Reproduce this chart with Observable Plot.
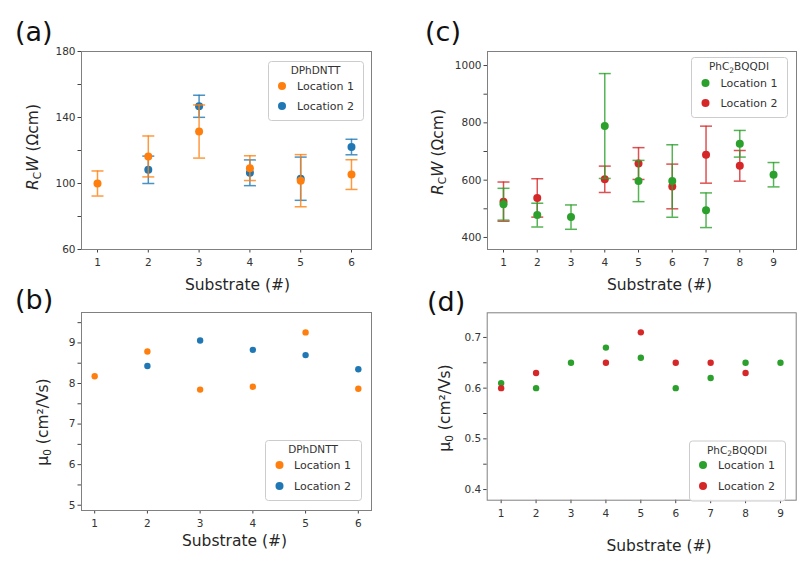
<!DOCTYPE html>
<html>
<head>
<meta charset="utf-8">
<script src="https://cdn.jsdelivr.net/npm/d3@7"></script>
<script src="https://cdn.jsdelivr.net/npm/@observablehq/plot@0.6"></script>
<style>
  body { margin: 0; background: #fff; }
  #wrap { position: relative; width: 811px; height: 564px; overflow: hidden; font-family: "DejaVu Sans", sans-serif; }
  .panel { position: absolute; }
  .panel svg { overflow: visible; }
  #overlay { position: absolute; left: 0; top: 0; pointer-events: none; font-weight: normal; }
</style>
</head>
<body>
<div id="wrap"></div>
<script>
// ---------- data ----------
const colorL1a = "#ff7f0e", colorL2a = "#1f77b4";   // DPhDNTT
const colorL1c = "#2ca02c", colorL2c = "#d62728";   // PhC2BQQDI

// (a) contact resistance, DPhDNTT
const subsA1 = [1, 2, 3, 4, 5, 6];
const rcwA1  = [100, 116.4, 131.5, 109.3, 101.7, 105.4];
const errA1  = [7.6, 12.4, 16.1, 7.5, 15.8, 9.0];
const subsA2 = [2, 3, 4, 5, 6];
const rcwA2  = [108.3, 146.8, 106.5, 102.9, 122.1];
const errA2  = [8.3, 6.7, 7.8, 13.1, 4.7];

// (b) mobility, DPhDNTT
const subsB1 = [1, 2, 3, 4, 5, 6];
const mobB1  = [8.18, 8.79, 7.85, 7.92, 9.26, 7.87];
const subsB2 = [2, 3, 4, 5, 6];
const mobB2  = [8.43, 9.06, 8.83, 8.70, 8.35];

// (c) contact resistance, PhC2BQQDI
const subsC1 = [1, 2, 3, 4, 5, 6, 7, 8, 9];
const rcwC1  = [516, 478, 471, 789, 597, 597, 495, 727, 619];
const errC1  = [55.5, 41.5, 42.5, 183, 72, 126.5, 60.5, 46.5, 42.5];
const subsC2 = [1, 2, 4, 5, 6, 7, 8];
const rcwC2  = [525, 538, 603, 658, 578, 689, 650];
const errC2  = [68.5, 67, 46, 55.5, 78, 99.5, 53.5];

// (d) mobility, PhC2BQQDI
const subsD1 = [1, 2, 3, 4, 5, 6, 7, 8, 9];
const mobD1  = [0.61, 0.60, 0.65, 0.68, 0.66, 0.60, 0.62, 0.65, 0.65];
const subsD2 = [1, 2, 4, 5, 6, 7, 8];
const mobD2  = [0.60, 0.63, 0.65, 0.71, 0.65, 0.65, 0.63];

// ticks
const xTicks6 = [1, 2, 3, 4, 5, 6];
const xTicks9 = [1, 2, 3, 4, 5, 6, 7, 8, 9];
const yTicksA = [60, 100, 140, 180], yMinorA = [80, 120, 160];
const yTicksB = [5, 6, 7, 8, 9],     yMinorB = [5.5, 6.5, 7.5, 8.5, 9.5];
const yTicksC = [400, 600, 800, 1000], yMinorC = [500, 700, 900];
const yTicksD = [0.4, 0.5, 0.6, 0.7], yMinorD = [0.45, 0.55, 0.65];

const legendLabels = ["Location 1", "Location 2"];

// ---------- helpers ----------
const rows = (s, v, e) => s.map((x, i) => ({s: x, v: v[i], e: e ? e[i] : 0}));
const capSymbol = { draw(ctx, size) { const w = Math.sqrt(size / Math.PI); ctx.moveTo(-w, 0); ctx.lineTo(w, 0); } };

function errMarks(data, color) {
  const o = {stroke: color, strokeWidth: 1.5, strokeOpacity: 0.8};
  return [
    Plot.ruleX(data, {x: "s", y1: d => d.v - d.e, y2: d => d.v + d.e, ...o}),
    Plot.dot(data, {x: "s", y: d => d.v + d.e, symbol: capSymbol, r: 6, fill: "none", ...o}),
    Plot.dot(data, {x: "s", y: d => d.v - d.e, symbol: capSymbol, r: 6, fill: "none", ...o}),
    Plot.dot(data, {x: "s", y: "v", r: 4, fill: color, stroke: "none"})
  ];
}

function axes(xt, yt, ym, fmt) {
  return [
    Plot.axisX({ticks: xt, tickFormat: d3.format("d"), tickSize: 3.5, tickPadding: 6, stroke: "#444", fill: "#333", label: null}),
    Plot.axisY({ticks: yt, tickFormat: fmt, tickSize: 3.5, tickPadding: 2.5, stroke: "#444", fill: "#333", label: null}),
    Plot.axisY({ticks: ym, tickSize: 3.5, stroke: "#444", fill: "none", label: null}),
    Plot.frame({stroke: "#808080", strokeWidth: 1})
  ];
}

const baseStyle = {fontFamily: '"DejaVu Sans", sans-serif', fontSize: "10.5px", color: "#333", background: "transparent", overflow: "visible"};

function place(svg, left, top) {
  const div = document.createElement("div");
  div.className = "panel";
  div.style.left = left + "px";
  div.style.top = top + "px";
  div.appendChild(svg);
  document.getElementById("wrap").appendChild(div);
}

// ---------- panels ----------
place(Plot.plot({
  width: 400, height: 290, marginLeft: 81, marginRight: 29, marginTop: 51, marginBottom: 41,
  x: {domain: [0.685, 6.394]}, y: {domain: [60, 180]}, style: baseStyle,
  marks: [
    ...axes(xTicks6, yTicksA, yMinorA, d3.format("d")),
    ...errMarks(rows(subsA2, rcwA2, errA2), colorL2a),
    ...errMarks(rows(subsA1, rcwA1, errA1), colorL1a)
  ]
}), 0, 0);

place(Plot.plot({
  width: 400, height: 274, marginLeft: 81, marginRight: 29, marginTop: 22, marginBottom: 54,
  x: {domain: [0.75, 6.25]}, y: {domain: [4.87, 9.75]}, style: baseStyle,
  marks: [
    ...axes(xTicks6, yTicksB, yMinorB, d3.format("d")),
    Plot.dot(rows(subsB1, mobB1), {x: "s", y: "v", r: 3.2, fill: colorL1a}),
    Plot.dot(rows(subsB2, mobB2), {x: "s", y: "v", r: 3.2, fill: colorL2a})
  ]
}), 0, 290);

place(Plot.plot({
  width: 406, height: 290, marginLeft: 82, marginRight: 15, marginTop: 51, marginBottom: 41,
  x: {domain: [0.526, 9.68]}, y: {domain: [358, 1049]}, style: baseStyle,
  marks: [
    ...axes(xTicks9, yTicksC, yMinorC, d3.format("d")),
    ...errMarks(rows(subsC2, rcwC2, errC2), colorL2c),
    ...errMarks(rows(subsC1, rcwC1, errC1), colorL1c)
  ]
}), 405, 0);

place(Plot.plot({
  width: 406, height: 274, marginLeft: 81.7, marginRight: 15.3, marginTop: 22.3, marginBottom: 64.3,
  x: {domain: [0.6, 9.45]}, y: {domain: [0.379, 0.7486]}, style: baseStyle,
  marks: [
    ...axes(xTicks9, yTicksD, yMinorD, d3.format(".1f")),
    Plot.dot(rows(subsD1, mobD1), {x: "s", y: "v", r: 3.2, fill: colorL1c}),
    Plot.dot(rows(subsD2, mobD2), {x: "s", y: "v", r: 3.2, fill: colorL2c})
  ]
}), 405, 290);

// ---------- overlay: panel letters, axis labels, legends ----------
const ov = d3.select("#wrap").append("svg").attr("id", "overlay")
  .attr("width", 811).attr("height", 564)
  .style("font-family", '"DejaVu Sans", sans-serif').attr("fill", "#262626").attr("font-weight", "normal");

[["(a)", 15, 41], ["(b)", 15, 309], ["(c)", 425, 41], ["(d)", 427, 311]].forEach(([t, x, y]) =>
  ov.append("text").attr("x", x).attr("y", y).attr("font-size", 27).attr("fill", "#111").text(t));

[[237.5, 289.5], [234.5, 545.5], [659.5, 289.5], [659, 551]].forEach(([x, y]) =>
  ov.append("text").attr("x", x).attr("y", y).attr("font-size", 15.5).attr("text-anchor", "middle").text("Substrate (#)"));

function rcwLabel(x, y) {
  const t = ov.append("text").attr("transform", `translate(${x},${y}) rotate(-90)`)
    .attr("font-size", 15.5).attr("text-anchor", "middle");
  t.append("tspan").attr("font-style", "italic").text("R");
  t.append("tspan").attr("font-size", 10.5).attr("dy", 3).text("C");
  t.append("tspan").attr("font-style", "italic").attr("dy", -3).text("W");
  t.append("tspan").text(" (Ωcm)");
}
function mobLabel(x, y) {
  const t = ov.append("text").attr("transform", `translate(${x},${y}) rotate(-90)`)
    .attr("font-size", 15.5).attr("text-anchor", "middle");
  t.append("tspan").text("μ");
  t.append("tspan").attr("font-size", 10.5).attr("dy", 3).text("0");
  t.append("tspan").attr("dy", -3).text(" (cm²/Vs)");
}
rcwLabel(37.5, 147);
rcwLabel(442.5, 152);
mobLabel(48, 422);
mobLabel(449.5, 408);

function legend(x0, y0, w, h, titleParts, colors, dotX, textX, rowY) {
  const g = ov.append("g");
  g.append("rect").attr("x", x0 + 0.5).attr("y", y0 + 0.5).attr("width", w).attr("height", h)
    .attr("rx", 3).attr("fill", "#fff").attr("fill-opacity", 0.85).attr("stroke", "#cccccc");
  const t = g.append("text").attr("x", x0 + w / 2).attr("y", y0 + 13).attr("text-anchor", "middle")
    .attr("font-size", 10.5).attr("font-weight", "normal").attr("fill", "#333");
  let prevSub = false;
  titleParts.forEach(([s, sub]) => {
    const ts = t.append("tspan").text(s);
    if (sub) ts.attr("font-size", 7.5).attr("dy", 2.5);
    else if (prevSub) ts.attr("dy", -2.5);
    prevSub = !!sub;
  });
  legendLabels.forEach((lab, i) => {
    g.append("circle").attr("cx", dotX).attr("cy", rowY[i]).attr("r", 4).attr("fill", colors[i]);
    g.append("text").attr("x", textX).attr("y", rowY[i] + 4).attr("font-size", 11).attr("fill", "#333").text(lab);
  });
}
legend(268, 61, 95, 59, [["DPhDNTT"]], [colorL1a, colorL2a], 282, 297, [86, 106]);
legend(265, 440, 96, 60, [["DPhDNTT"]], [colorL1a, colorL2a], 279.5, 294, [465, 486]);
legend(691, 57, 96, 60, [["PhC"], ["2", true], ["BQQDI"]], [colorL1c, colorL2c], 705.5, 720.5, [83, 103]);
legend(689, 440.5, 96, 60, [["PhC"], ["2", true], ["BQQDI"]], [colorL1c, colorL2c], 703, 718, [465, 486]);
</script>
</body>
</html>
